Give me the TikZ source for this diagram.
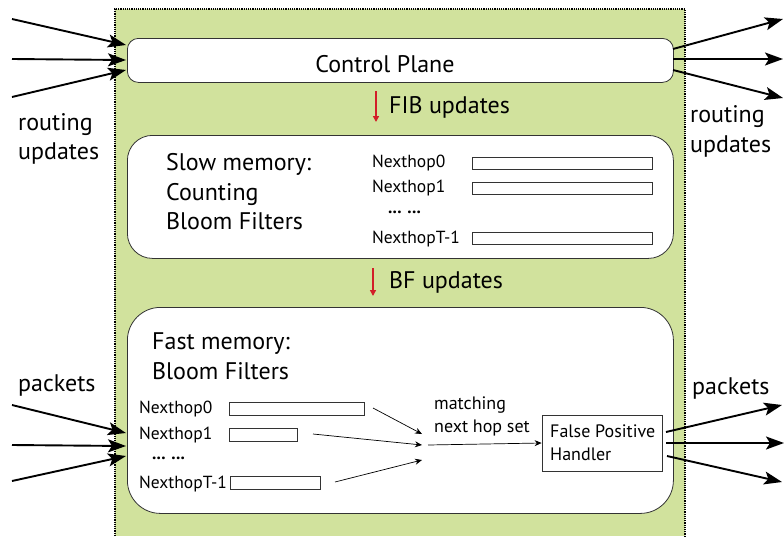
\documentclass[tikz,border=0pt]{standalone}
\usepackage{fontspec}
\setmainfont{PT Sans}
\usetikzlibrary{arrows.meta,calc}
\definecolor{bggreen}{RGB}{209,226,157}
\definecolor{arrred}{RGB}{210,30,40}
\begin{document}
\begin{tikzpicture}[x=1pt,y=-1pt,
  big/.style={font=\fontsize{24}{29.5}\selectfont, inner sep=0pt},
  small/.style={font=\fontsize{17.5}{18}\selectfont, inner sep=0pt},
  mid/.style={font=\fontsize{18}{23}\selectfont, inner sep=0pt},
  bar/.style={draw=black!80, line width=0.8pt, fill=white, inner sep=0pt, anchor=west},
  ext/.style={line width=1.9pt, -{Stealth[length=18pt,width=13pt,inset=4pt]}},
  thinarr/.style={line width=0.7pt, -{Stealth[length=7pt,width=6pt]}},
  mem/.style={draw=black!80, line width=0.8pt, fill=white, inner sep=0pt, anchor=north west},
  redarr/.style={line width=1.4pt, arrred, -{Triangle[length=6pt,width=6pt]}},
]
\useasboundingbox (0,0) rectangle (784,536);
\fill[bggreen] (115,9) rectangle (685,536);
\draw[densely dotted, line width=1.2pt] (115,536) -- (115,9) -- (685,9) -- (685,536);

% control plane
\node[mem, rounded corners=11pt, minimum width=546pt, minimum height=44pt] (cp) at (127,38) {};
\node[big] (cpt) at (385,64) {Control Plane};

% FIB updates
\coordinate (fibA) at (376,91);
\coordinate (fibB) at (376,122);
\draw[line width=2.6pt, black!85] (fibA) -- ($(fibB)+(0,-5)$);
\draw[redarr] (fibA) -- (fibB);
\node[big, anchor=west] (fibt) at (389,107) {FIB updates};

% slow memory
\node[mem, rounded corners=25pt, minimum width=546pt, minimum height=123pt] (slow) at (127,135) {};
\node[big, anchor=west, align=left] (slowt) at (166,192) {Slow memory:\\Counting\\Bloom Filters};
\node[small, anchor=west] (s0) at (372,163) {Nexthop0};
\node[small, anchor=west] (s1) at (372,188) {Nexthop1};
\node[small, anchor=west] (sd) at (388,212) {\textbf{... ...}};
\node[small, anchor=west] (sT) at (372,239) {NexthopT-1};
\node[bar, minimum width=180pt, minimum height=12pt] (sb0) at (472,163) {};
\node[bar, minimum width=180pt, minimum height=12pt] (sb1) at (472,188) {};
\node[bar, minimum width=180pt, minimum height=12pt] (sbT) at (472,238) {};

% BF updates
\coordinate (bfA) at (373,268);
\coordinate (bfB) at (373,296);
\draw[line width=2.6pt, black!85] (bfA) -- ($(bfB)+(0,-5)$);
\draw[redarr] (bfA) -- (bfB);
\node[big, anchor=west] (bft) at (389,282) {BF updates};

% fast memory
\node[mem, rounded corners=33pt, minimum width=546pt, minimum height=206pt] (fast) at (127,307) {};
\node[big, anchor=west, align=left] (fastt) at (152,356) {Fast memory:\\Bloom Filters};
\node[small, anchor=west] (f0) at (139,409) {Nexthop0};
\node[small, anchor=west] (f1) at (139,435) {Nexthop1};
\node[small, anchor=west] (fd) at (152,458) {\textbf{... ...}};
\node[small, anchor=west] (fT) at (139,484) {NexthopT-1};
\node[bar, minimum width=135pt, minimum height=13pt] (fb0) at (229,408.5) {};
\node[bar, minimum width=68pt, minimum height=13pt] (fb1) at (229,434.5) {};
\node[bar, minimum width=90pt, minimum height=13pt] (fbT) at (230,482.5) {};

\coordinate (m0s) at (373,408);
\coordinate (m1s) at (313,434);
\coordinate (mTs) at (335,482);
\coordinate (m0e) at (422,434);
\coordinate (m1e) at (422,445);
\coordinate (mTe) at (422,460);
\draw[thinarr] (m0s) -- (m0e);
\draw[thinarr] (m1s) -- (m1e);
\draw[thinarr] (mTs) -- (mTe);

\node[mid, anchor=west, align=left] (match) at (434,416.5) {matching\\next hop set};
\node[draw=black!80, line width=0.8pt, fill=white, minimum width=120pt, minimum height=56pt, inner sep=0pt] (fph) at (602,443) {};
\node[mid, anchor=west, align=left] (fpht) at (550,443) {False Positive\\Handler};
\coordinate (mS) at (428,445);
\draw[thinarr] (mS) -- (fph.west);

% external arrows: routing updates in
\coordinate (ri1) at (12,19);
\coordinate (ri2) at (12,59);
\coordinate (ri3) at (12,97);
\coordinate (ci1) at (126,45);
\coordinate (ci2) at (126,60);
\coordinate (ci3) at (126,70);
\draw[ext] (ri1) -- (ci1);
\draw[ext] (ri2) -- (ci2);
\draw[ext] (ri3) -- (ci3);
% routing updates out
\coordinate (co1) at (673,49);
\coordinate (co2) at (673,59);
\coordinate (co3) at (673,70);
\coordinate (ro1) at (783,19);
\coordinate (ro2) at (783,59);
\coordinate (ro3) at (783,98);
\draw[ext] (co1) -- (ro1);
\draw[ext] (co2) -- (ro2);
\draw[ext] (co3) -- (ro3);
% packets in
\coordinate (pi1) at (12,405);
\coordinate (pi2) at (12,445);
\coordinate (pi3) at (12,481);
\coordinate (fi1) at (126,433);
\coordinate (fi2) at (126,446);
\coordinate (fi3) at (126,456);
\draw[ext] (pi1) -- (fi1);
\draw[ext] (pi2) -- (fi2);
\draw[ext] (pi3) -- (fi3);
% packets out
\coordinate (fo1) at (666,432);
\coordinate (fo2) at (666,443);
\coordinate (fo3) at (667,456);
\coordinate (po1) at (782,405);
\coordinate (po2) at (784,443);
\coordinate (po3) at (782,482);
\draw[ext] (fo1) -- (po1);
\draw[ext] (fo2) -- (po2);
\draw[ext] (fo3) -- (po3);

\node[big, anchor=west, align=left] (rul) at (18,139) {routing\\updates};
\node[big, anchor=west, align=left] (rur) at (690,131.5) {routing\\updates};
\node[big, anchor=west] (pl) at (18,385) {packets};
\node[big, anchor=west] (pr) at (692,388) {packets};
\end{tikzpicture}
\end{document}
